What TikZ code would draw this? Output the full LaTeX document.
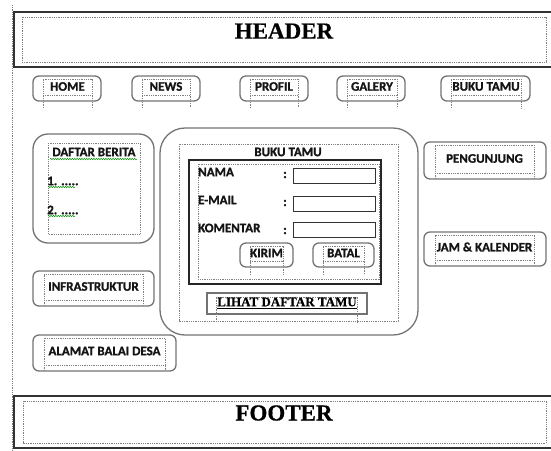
\documentclass[tikz,border=0pt]{standalone}
\usepackage{fontspec}
\setmainfont{Liberation Serif}[BoldFeatures={FakeBold=0.6}]
\setsansfont{Carlito}[BoldFeatures={FakeBold=1.2}]
\usetikzlibrary{decorations.pathmorphing}

\tikzset{
  frameline/.style={draw=black!80, line width=1.4pt},
  roundbox/.style={draw=black!55, line width=1.3pt, rounded corners=6pt},
  formline/.style={draw=black!85, line width=1.2pt},
  fieldbox/.style={draw=black!80, line width=0.9pt},
  guide/.style={draw=black!50, line width=0.6pt, dash pattern=on 0.9pt off 0.9pt},
  lbl/.style={font=\sffamily\bfseries\fontsize{13}{15}\selectfont, text=black!92, inner sep=0pt},
  heading/.style={font=\rmfamily\bfseries\fontsize{23}{26}\selectfont, inner sep=0pt},
  squiggle/.style={draw=green!55!black, line width=0.5pt, decorate,
    decoration={snake, amplitude=0.7pt, segment length=2.4pt}},
}

% rounded button: name, x1, y1, x2, y2, inner left, inner right, label, guide bottom
\newcommand{\uibutton}[9]{%
  \draw[roundbox] (#2,#3) rectangle (#4,#5);
  \draw[guide] (#6,#9) -- (#6,#3+3) -- (#7,#3+3) -- (#7,#9);
  \draw[guide] (#6,#5-6) -- (#7,#5-6);
  \node[lbl] (#1) at ({(#6+#7)/2},{(#3+#5)/2-2}) {#8};
}

\begin{document}
\begin{tikzpicture}[x=1pt,y=-1pt]
  \useasboundingbox (0,0) rectangle (551,450);

  % page margin guide
  \draw[guide] (12,5) -- (12,450);

  % header
  \draw[frameline] (14,12) rectangle (555,67);
  \draw[guide] (22,17) rectangle (546,62);
  \node[heading] (header) at (284,31) {HEADER};

  % navigation
  \uibutton{home}{33}{76}{101}{101}{43}{92}{HOME}{108}
  \uibutton{news}{132}{76}{200}{101}{142}{190}{NEWS}{108}
  \uibutton{profil}{240}{76}{308}{101}{250}{298}{PROFIL}{108}
  \uibutton{galery}{337}{76}{405}{101}{347}{397}{GALERY}{108}
  \uibutton{bukutamu}{441}{76}{530}{101}{451}{521}{BUKU TAMU}{108}

  % news list
  \draw[roundbox, rounded corners=15pt] (33,134) rectangle (154,243);
  \draw[guide] (48,143) rectangle (140,234);
  \node[lbl] (berita) at (94,152) {DAFTAR\ BERITA};
  \node[lbl, anchor=west] (item1) at (47,181) {1. .....};
  \node[lbl, anchor=west] (item2) at (47,210) {2. .....};
  \draw[squiggle] (50,159) -- (137,159);
  \draw[squiggle] (48,187) -- (75,187);
  \draw[squiggle] (48,216) -- (75,216);

  % left column
  \uibutton{infra}{33}{271}{154}{306}{44}{143}{INFRASTRUKTUR}{306}
  \uibutton{alamat}{33}{335}{176}{371}{44}{165}{ALAMAT BALAI DESA}{371}

  % guest book panel
  \draw[roundbox, rounded corners=25pt] (160,128) rectangle (418,335);
  \draw[guide] (179,144) rectangle (398,321);
  \node[lbl] (gbtitle) at (288,152) {BUKU TAMU};

  % form
  \draw[formline] (189,160) rectangle (381,284);
  \draw[guide] (198,164) rectangle (379,279);
  \node[lbl, anchor=west] (nama) at (198,172) {NAMA};
  \node[lbl, anchor=west] (email) at (198,200) {E-MAIL};
  \node[lbl, anchor=west] (komentar) at (198,228) {KOMENTAR};
  \node[lbl] (c1) at (285,175) {:};
  \node[lbl] (c2) at (285,203) {:};
  \node[lbl] (c3) at (285,231) {:};
  \draw[fieldbox] (293,168) rectangle (375,183);
  \draw[fieldbox] (293,196) rectangle (375,211);
  \draw[fieldbox] (293,222) rectangle (375,237);
  \uibutton{kirim}{240}{243}{293}{267}{250}{283}{KIRIM}{275}
  \uibutton{batal}{313}{243}{374}{267}{323}{364}{BATAL}{275}

  % list link
  \draw[draw=black!55, line width=1.5pt] (207,293) rectangle (367,314);
  \draw[guide] (216,322) -- (216,297) -- (357,297) -- (357,322);
  \node[font=\rmfamily\bfseries\fontsize{13}{15}\selectfont, inner sep=0pt] (lihat) at (287,303)
    {\underline{LIHAT DAFTAR TAMU}};

  % right column
  \uibutton{pengunjung}{424}{142}{546}{179}{435}{534}{PENGUNJUNG}{179}
  \uibutton{jam}{424}{232}{546}{266}{435}{534}{JAM \& KALENDER}{266}

  % footer
  \draw[frameline] (14,396) rectangle (555,448);
  \draw[guide] (23,401) rectangle (546,443);
  \node[heading] (footer) at (284,413) {FOOTER};
\end{tikzpicture}
\end{document}
